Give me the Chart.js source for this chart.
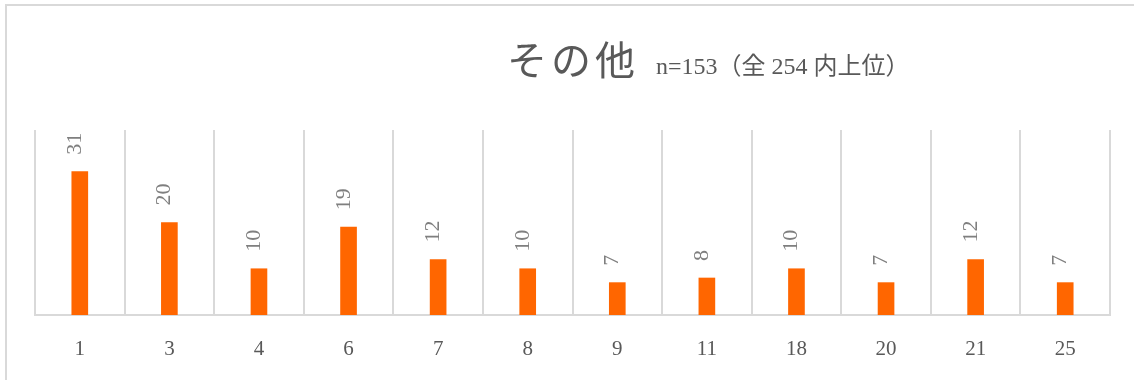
<!DOCTYPE html>
<html>
<head>
<meta charset="utf-8">
<script src="https://cdn.jsdelivr.net/npm/chart.js@4.4.1/dist/chart.umd.min.js"></script>
<style>
  html, body { margin: 0; padding: 0; background: #ffffff; }
  #wrap { width: 1134px; height: 380px; position: relative; }
</style>
</head>
<body>
<div id="wrap"><canvas id="c" width="1134" height="380"></canvas></div>
<script>
const categories = ['1', '3', '4', '6', '7', '8', '9', '11', '18', '20', '21', '25'];
const counts = [31, 20, 10, 19, 12, 10, 7, 8, 10, 7, 12, 7];
const titleMain = 'その他';
const titleSub = 'n=153（全 254 内上位）';

const frameAndTitle = {
  id: 'frameAndTitle',
  beforeDraw(chart) {
    const ctx = chart.ctx;
    ctx.save();
    ctx.fillStyle = '#ffffff';
    ctx.fillRect(0, 0, chart.width, chart.height);
    ctx.strokeStyle = '#d9d9d9';
    ctx.lineWidth = 2;
    ctx.beginPath();
    ctx.moveTo(6, chart.height);
    ctx.lineTo(6, 5);
    ctx.lineTo(chart.width, 5);
    ctx.stroke();
    ctx.restore();
  },
  afterDraw(chart) {
    const ctx = chart.ctx;
    ctx.save();
    ctx.fillStyle = '#595959';
    ctx.textBaseline = 'alphabetic';
    ctx.textAlign = 'left';
    ctx.font = '400 40px "Noto Sans CJK JP"';
    ctx.letterSpacing = '4px';
    ctx.fillText(titleMain, 507, 75);
    ctx.letterSpacing = '0px';
    ctx.font = '24px "Liberation Serif", "Noto Sans CJK JP"';
    ctx.fillText(titleSub, 656, 74);
    ctx.restore();
  }
};

const barLabels = {
  id: 'barLabels',
  afterDatasetsDraw(chart) {
    const ctx = chart.ctx;
    const meta = chart.getDatasetMeta(0);
    const data = chart.data.datasets[0].data;
    ctx.save();
    ctx.fillStyle = '#7f7f7f';
    ctx.font = '22px "Liberation Serif"';
    ctx.textAlign = 'left';
    ctx.textBaseline = 'alphabetic';
    meta.data.forEach((bar, i) => {
      ctx.save();
      ctx.translate(bar.x + 1, bar.y - 17);
      ctx.rotate(-Math.PI / 2);
      ctx.fillText(String(data[i]), 0, 0);
      ctx.restore();
    });
    ctx.restore();
  }
};

new Chart(document.getElementById('c'), {
  type: 'bar',
  data: {
    labels: categories,
    datasets: [{
      data: counts,
      backgroundColor: '#ff6600',
      borderWidth: 0,
      barThickness: 16
    }]
  },
  options: {
    responsive: false,
    animation: false,
    layout: { padding: { left: 35, right: 24, top: 130, bottom: 20 } },
    plugins: {
      legend: { display: false },
      title: { display: false },
      tooltip: { enabled: false }
    },
    scales: {
      x: {
        offset: true,
        afterFit(scale) { scale.height = 45; },
        grid: {
          offset: true,
          display: true,
          drawTicks: false,
          color: '#d9d9d9',
          lineWidth: 2
        },
        border: { display: true, color: '#d9d9d9', width: 2 },
        ticks: {
          color: '#595959',
          padding: 22,
          font: { family: '"Liberation Serif"', size: 21 }
        }
      },
      y: {
        display: false,
        min: 0,
        max: 40
      }
    }
  },
  plugins: [frameAndTitle, barLabels]
});
</script>
</body>
</html>
